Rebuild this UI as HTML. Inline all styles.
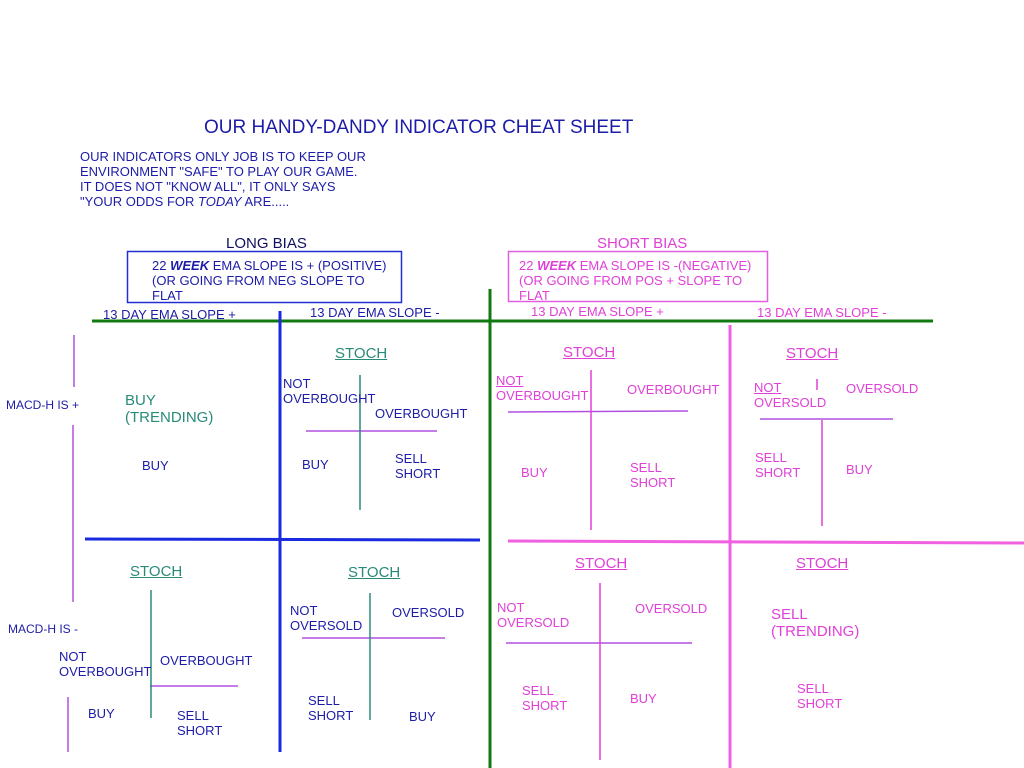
<!DOCTYPE html><html><head><style>
body{margin:0;background:#fff;width:1024px;height:768px;position:relative;overflow:hidden;font-family:"Liberation Sans",sans-serif;}
.t{position:absolute;font-size:13px;line-height:15px;white-space:nowrap;}
.b{color:#1c1ca8}.g{color:#2a8a78}.m{color:#e040d8}.u{text-decoration:underline}
.s{font-size:15px;line-height:17px}
svg{position:absolute;left:0;top:0}
</style></head><body>
<svg width="1024" height="768">
<rect x="127.5" y="251.5" width="274" height="51" fill="none" stroke="#2030d0" stroke-width="1.5"/>
<rect x="508.5" y="251.5" width="259" height="50" fill="none" stroke="#e060e0" stroke-width="1.5"/>
<line x1="92" y1="321" x2="933" y2="321" stroke="#107a10" stroke-width="3"/>
<line x1="490" y1="289" x2="490" y2="768" stroke="#107a10" stroke-width="3"/>
<line x1="280" y1="311" x2="280" y2="752" stroke="#1a2ae0" stroke-width="3"/>
<line x1="85" y1="539" x2="480" y2="540" stroke="#1a2ae0" stroke-width="3"/>
<line x1="730" y1="325" x2="730" y2="768" stroke="#f060e0" stroke-width="3"/>
<line x1="508" y1="541" x2="1024" y2="543" stroke="#f060e0" stroke-width="3"/>
<g stroke="#b050e0" stroke-width="1.5">
<line x1="74" y1="335" x2="74" y2="387"/><line x1="73" y1="425" x2="73" y2="602"/>
<line x1="68" y1="697" x2="68" y2="752"/>
<line x1="306" y1="431" x2="437" y2="431"/>
<line x1="508" y1="412" x2="688" y2="411"/>
<line x1="760" y1="419" x2="893" y2="419"/>
<line x1="150" y1="686" x2="238" y2="686"/>
<line x1="302" y1="638" x2="445" y2="638"/>
<line x1="506" y1="643" x2="692" y2="643"/>
</g>
<g stroke="#2a8a78" stroke-width="1.5">
<line x1="360" y1="375" x2="360" y2="510"/>
<line x1="151" y1="590" x2="151" y2="718"/>
<line x1="370" y1="593" x2="370" y2="720"/>
</g>
<g stroke="#e040d8" stroke-width="1.5">
<line x1="591" y1="370" x2="591" y2="530"/>
<line x1="822" y1="420" x2="822" y2="526"/>
<line x1="817" y1="379" x2="817" y2="390"/>
<line x1="600" y1="583" x2="600" y2="760"/>
</g>
</svg>
<div class="t b" style="left:204px;top:117px;font-size:19px;line-height:21px">OUR HANDY-DANDY INDICATOR CHEAT SHEET</div>
<div class="t b" style="left:80px;top:149px;font-size:13px">OUR INDICATORS ONLY JOB IS TO KEEP OUR<br>ENVIRONMENT "SAFE" TO PLAY OUR GAME.<br>IT DOES NOT "KNOW ALL", IT ONLY SAYS<br>"YOUR ODDS FOR <i>TODAY</i> ARE.....</div>
<div class="t s" style="left:226px;top:235px;color:#101060">LONG BIAS</div>
<div class="t s m" style="left:597px;top:235px">SHORT BIAS</div>
<div class="t b" style="left:152px;top:258px">22 <b><i>WEEK</i></b> EMA SLOPE IS + (POSITIVE)<br>(OR GOING FROM NEG SLOPE TO<br>FLAT</div>
<div class="t m" style="left:519px;top:258px">22 <b><i>WEEK</i></b> EMA SLOPE IS -(NEGATIVE)<br>(OR GOING FROM POS + SLOPE TO<br>FLAT</div>
<div class="t b" style="left:103px;top:307px">13 DAY EMA SLOPE +</div>
<div class="t b" style="left:310px;top:305px">13 DAY EMA SLOPE -</div>
<div class="t m" style="left:531px;top:304px">13 DAY EMA SLOPE +</div>
<div class="t m" style="left:757px;top:305px">13 DAY EMA SLOPE -</div>
<div class="t b" style="left:6px;top:398px;font-size:12px">MACD-H IS +</div>
<div class="t b" style="left:8px;top:622px;font-size:12px">MACD-H IS -</div>
<div class="t g s" style="left:125px;top:392px">BUY<br>(TRENDING)</div>
<div class="t b" style="left:142px;top:458px">BUY</div>
<div class="t g s u" style="left:335px;top:345px">STOCH</div>
<div class="t b" style="left:283px;top:376px">NOT<br>OVERBOUGHT</div>
<div class="t b" style="left:375px;top:406px">OVERBOUGHT</div>
<div class="t b" style="left:302px;top:457px">BUY</div>
<div class="t b" style="left:395px;top:451px">SELL<br>SHORT</div>
<div class="t m s u" style="left:563px;top:344px">STOCH</div>
<div class="t m" style="left:496px;top:373px"><span class="u">NOT</span><br>OVERBOUGHT</div>
<div class="t m" style="left:627px;top:382px">OVERBOUGHT</div>
<div class="t m" style="left:521px;top:465px">BUY</div>
<div class="t m" style="left:630px;top:460px">SELL<br>SHORT</div>
<div class="t m s u" style="left:786px;top:345px">STOCH</div>
<div class="t m" style="left:754px;top:380px"><span class="u">NOT</span><br>OVERSOLD</div>
<div class="t m" style="left:846px;top:381px">OVERSOLD</div>
<div class="t m" style="left:755px;top:450px">SELL<br>SHORT</div>
<div class="t m" style="left:846px;top:462px">BUY</div>
<div class="t g s u" style="left:130px;top:563px">STOCH</div>
<div class="t b" style="left:59px;top:649px">NOT<br>OVERBOUGHT</div>
<div class="t b" style="left:160px;top:653px">OVERBOUGHT</div>
<div class="t b" style="left:88px;top:706px">BUY</div>
<div class="t b" style="left:177px;top:708px">SELL<br>SHORT</div>
<div class="t g s u" style="left:348px;top:564px">STOCH</div>
<div class="t b" style="left:290px;top:603px">NOT<br>OVERSOLD</div>
<div class="t b" style="left:392px;top:605px">OVERSOLD</div>
<div class="t b" style="left:308px;top:693px">SELL<br>SHORT</div>
<div class="t b" style="left:409px;top:709px">BUY</div>
<div class="t m s u" style="left:575px;top:555px">STOCH</div>
<div class="t m" style="left:497px;top:600px">NOT<br>OVERSOLD</div>
<div class="t m" style="left:635px;top:601px">OVERSOLD</div>
<div class="t m" style="left:522px;top:683px">SELL<br>SHORT</div>
<div class="t m" style="left:630px;top:691px">BUY</div>
<div class="t m s u" style="left:796px;top:555px">STOCH</div>
<div class="t m s" style="left:771px;top:606px">SELL<br>(TRENDING)</div>
<div class="t m" style="left:797px;top:681px">SELL<br>SHORT</div>
</body></html>
